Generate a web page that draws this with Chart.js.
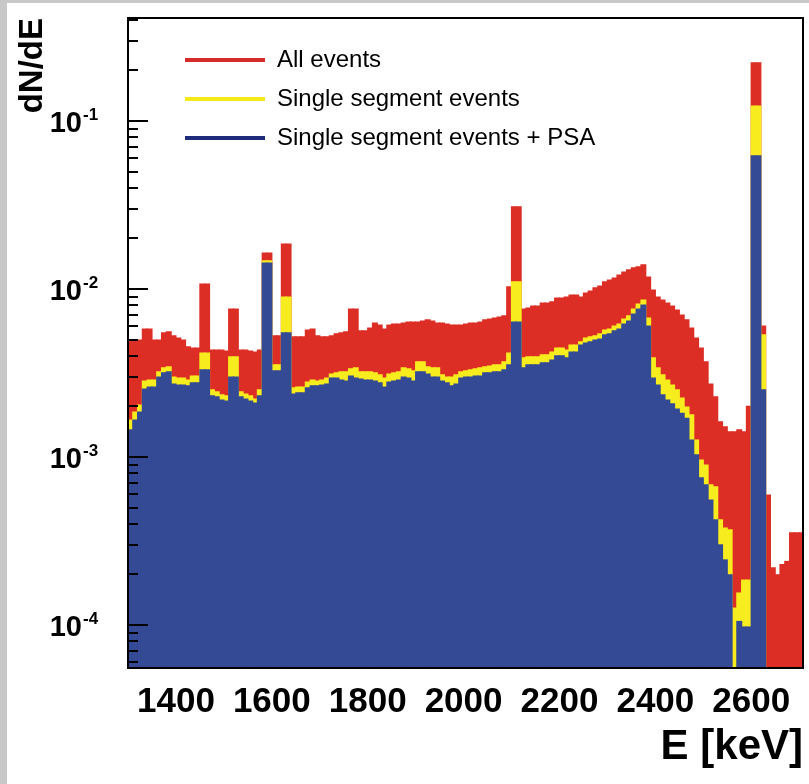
<!DOCTYPE html>
<html>
<head>
<meta charset="utf-8">
<script src="https://cdn.jsdelivr.net/npm/chart.js@4.4.0/dist/chart.umd.min.js"></script>
<style>
  html, body { margin: 0; padding: 0; background: #c8c8c8; width: 809px; height: 784px; overflow: hidden; }
  #wrap { position: absolute; left: 7px; top: 3px; width: 802px; height: 781px; background: #fff; }
</style>
</head>
<body>
<div id="wrap"><canvas id="spectrum" width="802" height="781"></canvas></div>
<script>
// === Spectrum data: dN/dE per 10 keV bin, first bin starts at 1300 keV ===
const energyStart = 1300;
const binWidth = 10;

const allEvents = [
  .00497,.00497,.00497,.00578,.00578,.00497,.00497,.00548,.00556,.00526,
  .00511,.00497,.00452,.00445,.00445,.0107,.0107,.00433,.00433,.00433,
  .00427,.0076,.0076,.00433,.00433,.00427,.00421,.00433,.01638,.01638,
  .00526,.00526,.01853,.01853,.00519,.00519,.00519,.0057,.00578,.00526,
  .00519,.00519,.00526,.0054,.00548,.00556,.0076,.0076,.00563,.00563,
  .00586,.00627,.0061,.00578,.0061,.00618,.00618,.00627,.00636,.00636,
  .00636,.00645,.00654,.00645,.00627,.00627,.00618,.0061,.0061,.0061,
  .00618,.00627,.00627,.00636,.00654,.00663,.00672,.00681,.00691,.01028,
  .0308,.0308,.0076,.0077,.00792,.00792,.00825,.00825,.00837,.00884,
  .00884,.00896,.00921,.00921,.00896,.00946,.00973,.01014,.01042,.01101,
  .01131,.01162,.0121,.01262,.01298,.01334,.01353,.01391,.01178,.00986,
  .00896,.0086,.00825,.00792,.0075,.007,.00654,.00586,.00511,.00445,
  .00368,.00272,.00228,.00162,.00151,.00141,.00141,.00145,.00141,.002,
  .2214,.2214,.00602,.000594,.000219,.000199,.000229,.000239,.000354,.000354,.000354
];

const singleSegment = [
  .00166,.00185,.00204,.00283,.00287,.00287,.00321,.00339,.00344,.00299,
  .00295,.00295,.00287,.00303,.00303,.00416,.00416,.00251,.00244,.00234,
  .00231,.00394,.00394,.00244,.00237,.00231,.00221,.00251,.01468,.01468,
  .00353,.00353,.00896,.00896,.00258,.00261,.00261,.00279,.00287,.00283,
  .00287,.00295,.00312,.00317,.00321,.00321,.00335,.00339,.00321,.00321,
  .00321,.00317,.00308,.00295,.00312,.00317,.00321,.00339,.00335,.00326,
  .00368,.00368,.00344,.00339,.00339,.00308,.00299,.00299,.00308,.00321,
  .00326,.0033,.00335,.00339,.00344,.00348,.00353,.00353,.00368,.00416,
  .01101,.01101,.00389,.00394,.00394,.00394,.00405,.00405,.00421,.00445,
  .00445,.00433,.00464,.00464,.00484,.00511,.00519,.00526,.0054,.0057,
  .00578,.00602,.00618,.00663,.00691,.0076,.00814,.0086,.00672,.00389,
  .00339,.00308,.00287,.00268,.00251,.00224,.00198,.00178,.00126,.00096,
  .000896,.000682,.000664,.000422,.000378,.000368,.000126,.000155,.000185,.000185,
  .1228,.1228,.00533,null,null,null,null,null,null,null,null
];

const singleSegmentPSA = [
  .00145,.00166,.00185,.00254,.00261,.00261,.00299,.00317,.00321,.00272,
  .00268,.00268,.00265,.00276,.00276,.0033,.0033,.00231,.00228,.00218,
  .00215,.00299,.00299,.00228,.00221,.00215,.00209,.00231,.01428,.01428,
  .00326,.00326,.00548,.00548,.00237,.00241,.00241,.00258,.00265,.00265,
  .00268,.00272,.00295,.00295,.00287,.00283,.00303,.00295,.00291,.00287,
  .00287,.00283,.00276,.00261,.00279,.00283,.00287,.00299,.00295,.00283,
  .00321,.00321,.00312,.00299,.00299,.00283,.00276,.00265,.00272,.00295,
  .00299,.00299,.00303,.00303,.00317,.00317,.00321,.00321,.0033,.00353,
  .00636,.00636,.00339,.00353,.00353,.00353,.00363,.00363,.00378,.004,
  .004,.00389,.00421,.00421,.00464,.00477,.00484,.00497,.00504,.00533,
  .0054,.00563,.00578,.00618,.00645,.0071,.0076,.00803,.00602,.00295,
  .00268,.00234,.00218,.00207,.00193,.00182,.0017,.00126,.00103,.000751,
  .000682,.000555,.000422,.0003,.000244,.000199,null,.000105,.0000973,.0000973,
  .0619,.0619,.00251,null,null,null,null,null,null,null,null
];

const seriesLabels = ['All events', 'Single segment events', 'Single segment events + PSA'];
const seriesColors = ['#dd2e26', '#f7ec1e', '#354a94'];
const legendColors = ['#d52b2b', '#f4ea1a', '#1e2a7a'];
const xTickValues = [1400, 1600, 1800, 2000, 2200, 2400, 2600];
const yDecades = [-4, -3, -2, -1];

const FONT = '"Liberation Sans", Arial, sans-serif';
Chart.defaults.font.family = FONT;

// bin centres
const energies = allEvents.map((_, i) => energyStart + binWidth * (i + 0.5));
const toPoints = vals => vals.map((v, i) => ({ x: energies[i], y: v }));

// === frame, inward log ticks, decade labels and legend ===
const frameAndLabels = {
  id: 'frameAndLabels',
  afterDatasetsDraw(chart) {
    const { ctx, chartArea: a, scales: { y } } = chart;
    ctx.save();
    ctx.strokeStyle = '#000';
    ctx.lineWidth = 2;
    ctx.beginPath();
    const lo = Math.floor(Math.log10(y.min)), hi = Math.ceil(Math.log10(y.max));
    for (let e = lo; e <= hi; e++) {
      for (let m = 1; m <= 9; m++) {
        const v = m * Math.pow(10, e);
        if (v < y.min || v > y.max) continue;
        const py = Math.round(y.getPixelForValue(v));
        ctx.moveTo(a.left, py);
        ctx.lineTo(a.left + (m === 1 ? 20 : 10), py);
      }
    }
    ctx.stroke();
    ctx.strokeRect(a.left, a.top, a.right - a.left, a.bottom - a.top);

    ctx.fillStyle = '#000';
    yDecades.forEach(e => {
      const py = y.getPixelForValue(Math.pow(10, e));
      ctx.font = 'bold 29px ' + FONT;
      ctx.textAlign = 'right';
      ctx.textBaseline = 'middle';
      ctx.fillText('10', 75, py + 3);
      ctx.font = 'bold 17px ' + FONT;
      ctx.textAlign = 'left';
      ctx.textBaseline = 'alphabetic';
      ctx.fillText(String(e), 76, py - 1);
    });

    const rows = [57, 96, 135];
    ctx.lineWidth = 4;
    ctx.font = '24px ' + FONT;
    ctx.textBaseline = 'middle';
    ctx.textAlign = 'left';
    seriesLabels.forEach((label, i) => {
      ctx.strokeStyle = legendColors[i];
      ctx.beginPath();
      ctx.moveTo(178, rows[i]);
      ctx.lineTo(258, rows[i]);
      ctx.stroke();
      ctx.fillStyle = '#000';
      ctx.fillText(label, 270, rows[i]);
    });
    ctx.restore();
  }
};

const makeSet = (i, vals, order) => ({
  label: seriesLabels[i],
  data: toPoints(vals),
  backgroundColor: seriesColors[i],
  borderWidth: 0,
  grouped: false,
  barPercentage: 1,
  categoryPercentage: 1,
  inflateAmount: 0.6,
  order
});

new Chart(document.getElementById('spectrum'), {
  type: 'bar',
  data: {
    datasets: [
      makeSet(0, allEvents, 3),
      makeSet(1, singleSegment, 2),
      makeSet(2, singleSegmentPSA, 1)
    ]
  },
  options: {
    responsive: false,
    animation: false,
    events: [],
    layout: { padding: { top: 15, right: 6, left: 0, bottom: 0 } },
    plugins: { legend: { display: false }, tooltip: { enabled: false } },
    scales: {
      x: {
        type: 'linear',
        offset: false,
        min: 1300,
        max: 2708,
        grid: { display: false, drawTicks: false, offset: false },
        border: { display: false },
        afterBuildTicks: s => { s.ticks = xTickValues.map(v => ({ value: v })); },
        afterFit: s => { s.height = 116; },
        ticks: {
          autoSkip: false,
          maxRotation: 0,
          padding: 13,
          color: '#000',
          font: { size: 35, weight: 'bold', lineHeight: 1.2 },
          callback: v => String(v)
        },
        title: {
          display: true,
          text: 'E [keV]',
          align: 'end',
          color: '#000',
          font: { size: 42, weight: 'bold', lineHeight: 1.2 },
          padding: { top: 0, bottom: 11 }
        }
      },
      y: {
        type: 'logarithmic',
        min: 5.55e-5,
        max: 0.41,
        grid: { display: false, drawTicks: false },
        border: { display: false },
        ticks: { display: false },
        afterFit: s => { s.width = 121; },
        title: {
          display: true,
          text: 'dN/dE',
          align: 'end',
          color: '#000',
          font: { size: 33, weight: 'bold', lineHeight: 1.2 },
          padding: { top: 6, bottom: 0 }
        }
      }
    }
  },
  plugins: [frameAndLabels]
});
</script>
</body>
</html>
